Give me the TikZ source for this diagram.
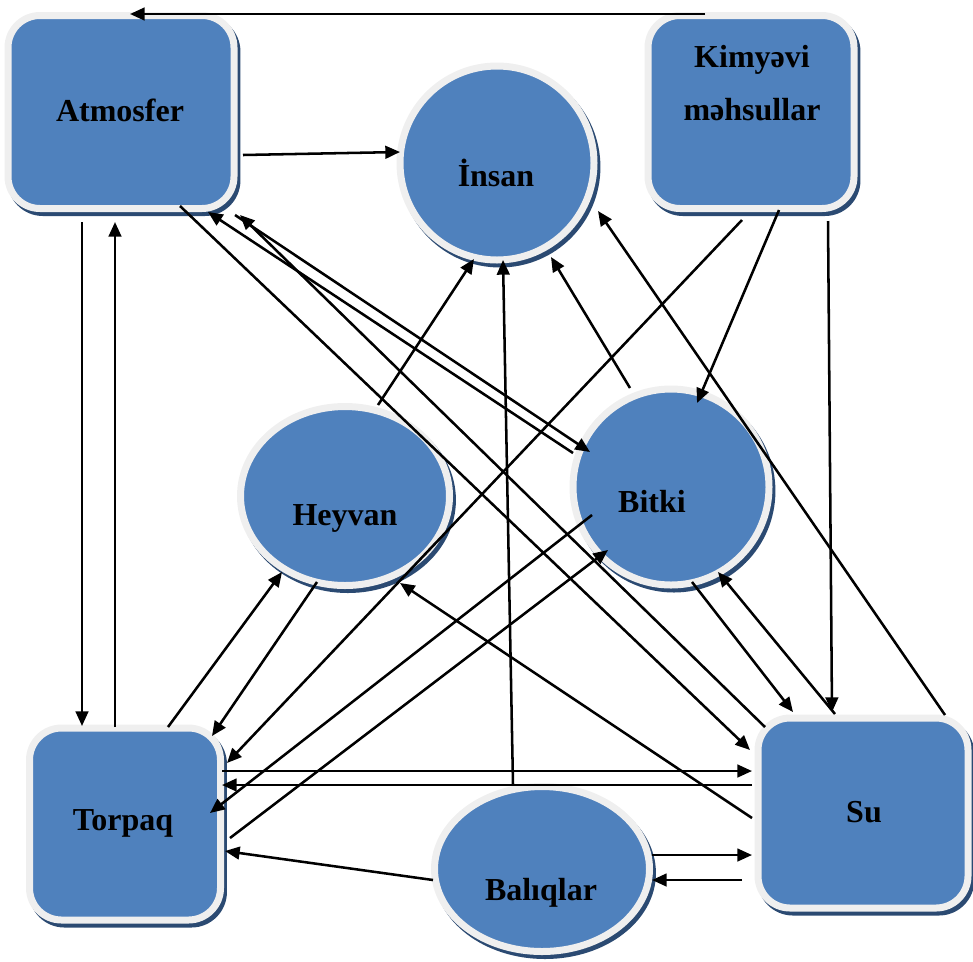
\documentclass[tikz,border=0pt]{standalone}
\usepackage{fontspec}
\setmainfont{Liberation Serif}
\usetikzlibrary{arrows.meta,shapes.geometric}
\definecolor{nodeblue}{HTML}{4F81BD}
\definecolor{ringgray}{HTML}{EFEFEF}
\definecolor{shadowblue}{HTML}{2B4A72}
\begin{document}
\begin{tikzpicture}[x=0.75pt,y=-0.75pt,
  blob/.style={fill=nodeblue, draw=ringgray, line width=5.25pt, inner sep=0pt, outer sep=0pt,
    preaction={draw=shadowblue, fill=shadowblue, line width=5.25pt, transform canvas={xshift=2.2pt,yshift=-3pt}}},
  rbox/.style={blob, rectangle, rounded corners=24pt},
  circ/.style={blob, circle},
  ell/.style={blob, ellipse},
  txt/.style={font=\fontsize{24}{39.75}\selectfont\bfseries, align=center, inner sep=0pt},
  arr/.style={-{Triangle[length=11pt,width=9.5pt]}, line width=1.9pt},
  ln/.style={line width=1.9pt}]
\useasboundingbox (0,0) rectangle (973,961);
% shapes
\node[rbox, minimum width=169.5pt, minimum height=144.75pt] (atm) at (121,112) {};
\node[rbox, minimum width=154.5pt, minimum height=144.75pt] (kim) at (751,112) {};
\node[circ, minimum size=145.5pt] (insan) at (497,163) {};
\node[circ, minimum size=147pt] (bitki) at (671,487) {};
\node[ell, minimum width=156.75pt, minimum height=134.25pt] (heyvan) at (345,496) {};
\node[rbox, minimum width=143.25pt, minimum height=144pt] (torpaq) at (125,824) {};
\node[rbox, minimum width=157.5pt, minimum height=142.5pt] (su) at (863,813) {};
\node[ell, minimum width=161.25pt, minimum height=123.75pt] (balik) at (542,869) {};
% connectors
\draw[arr] ([shift={(-46,-98)}]kim.center) -- ([shift={(9,-98)}]atm.center);
\draw[arr] ([shift={(122,43)}]atm.center) -- ([shift={(-97,-11)}]insan.center);
\draw[arr] ([shift={(-39,110)}]atm.center) -- ([shift={(-43,-98)}]torpaq.center);
\draw[arr] ([shift={(-10,-97)}]torpaq.center) -- ([shift={(-6,110)}]atm.center);
\draw[arr] ([shift={(59,94)}]atm.center) -- ([shift={(-113,-63)}]su.center);
\draw[arr] ([shift={(-98,-34)}]bitki.center) -- ([shift={(87,100)}]atm.center);
\draw[arr] ([shift={(114,103)}]atm.center) -- ([shift={(-81,-35)}]bitki.center);
\draw[arr] ([shift={(-98,-86)}]su.center) -- ([shift={(119,103)}]atm.center);
\draw[arr] ([shift={(33,-91)}]heyvan.center) -- ([shift={(-23,96)}]insan.center);
\draw[arr] ([shift={(-41,-99)}]bitki.center) -- ([shift={(54,94)}]insan.center);
\draw[arr] ([shift={(82,-98)}]su.center) -- ([shift={(101,48)}]insan.center);
\draw[arr] ([shift={(-29,-84)}]balik.center) -- ([shift={(6,97)}]insan.center);
\draw[arr] ([shift={(28,98)}]kim.center) -- ([shift={(26,-84)}]bitki.center);
\draw[arr] ([shift={(77,109)}]kim.center) -- ([shift={(-31,-101)}]su.center);
\draw[arr] ([shift={(-9,108)}]kim.center) -- ([shift={(102,-61)}]torpaq.center);
\draw[arr] ([shift={(21,95)}]bitki.center) -- ([shift={(-70,-101)}]su.center);
\draw[arr] ([shift={(-28,-99)}]su.center) -- ([shift={(47,85)}]bitki.center);
\draw[arr] ([shift={(-111,5)}]su.center) -- ([shift={(55,87)}]heyvan.center);
\draw[arr] ([shift={(97,-53)}]torpaq.center) -- ([shift={(-111,-42)}]su.center);
\draw[arr] ([shift={(-111,-28)}]su.center) -- ([shift={(97,-39)}]torpaq.center);
\draw[arr] ([shift={(110,-14)}]balik.center) -- ([shift={(-111,42)}]su.center);
\draw[arr] ([shift={(-121,67)}]su.center) -- ([shift={(110,11)}]balik.center);
\draw[arr] ([shift={(-109,11)}]balik.center) -- ([shift={(100,27)}]torpaq.center);
\draw[arr] ([shift={(-28,86)}]heyvan.center) -- ([shift={(87,-88)}]torpaq.center);
\draw[arr] ([shift={(43,-97)}]torpaq.center) -- ([shift={(-63,76)}]heyvan.center);
\draw[arr] ([shift={(-79,28)}]bitki.center) -- ([shift={(85,-11)}]torpaq.center);
\draw[arr] ([shift={(105,14)}]torpaq.center) -- ([shift={(-63,63)}]bitki.center);
% texts
\node[txt] (atmT) at (120,110) {Atmosfer};
\node[txt] (kimT) at (752,83) {Kimyəvi\\məhsullar};
\node[txt] (insanT) at (496,173) {İnsan};
\node[txt] (bitkiT) at (652,502) {Bitki};
\node[txt] (heyvanT) at (345,518) {Heyvan};
\node[txt] (torpaqT) at (123,823) {Torpaq};
\node[txt] (suT) at (864,812) {Su};
\node[txt] (balikT) at (541,893) {Balıqlar};
\end{tikzpicture}
\end{document}
